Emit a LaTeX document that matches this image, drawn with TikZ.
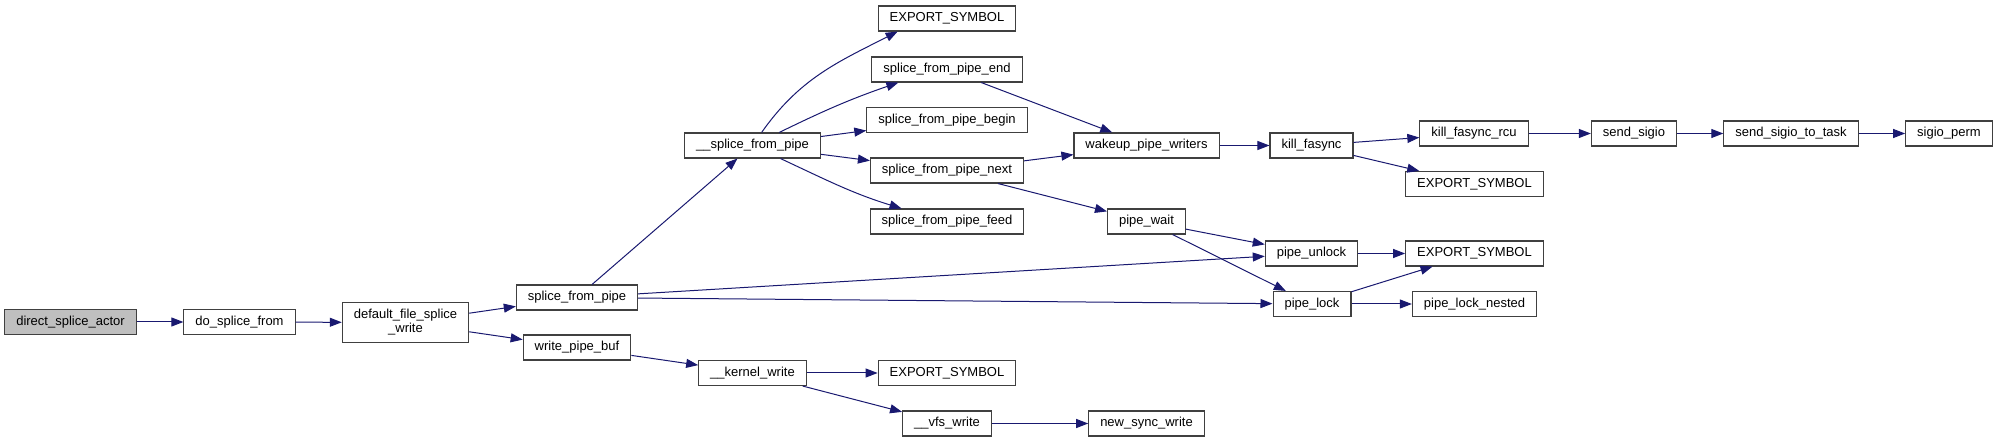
\documentclass[tikz,border=0pt]{standalone}
\usepackage{fontspec}
\setmainfont{Liberation Sans}
\usetikzlibrary{arrows.meta}
\definecolor{edgeblue}{HTML}{191970}
\definecolor{rootgray}{HTML}{BFBFBF}
\begin{document}
\begin{tikzpicture}[x=1pt,y=1pt,
  fn/.style={draw=black!75,line width=1.1pt,fill=white,minimum height=25pt,
    inner xsep=11.5pt,inner ysep=0pt,font=\fontsize{13}{14}\selectfont},
  root/.style={fn,fill=rootgray},
  call/.style={draw=edgeblue,line width=1pt,-{Triangle[length=12pt,width=9pt]}}]
\useasboundingbox (0,0) rectangle (1997,-443);
\node[root] (dsa) at (70.5,-322) {direct\_splice\_actor};
\node[fn] (dsf) at (239.5,-322) {do\_splice\_from};
\node[fn,minimum height=40pt,align=center] (dfsw) at (405.5,-322.5) {default\_file\_splice\\\_write};
\node[fn] (sfp) at (577,-297.5) {splice\_from\_pipe};
\node[fn] (wpb) at (577,-347.5) {write\_pipe\_buf};
\node[fn] (usfp) at (752.5,-145.5) {\_\_splice\_from\_pipe};
\node[fn] (exp1) at (947,-18.5) {EXPORT\_SYMBOL};
\node[fn] (sfpend) at (947,-69.5) {splice\_from\_pipe\_end};
\node[fn] (sfpbegin) at (947,-120) {splice\_from\_pipe\_begin};
\node[fn] (sfpnext) at (947,-170.5) {splice\_from\_pipe\_next};
\node[fn] (sfpfeed) at (947,-221.5) {splice\_from\_pipe\_feed};
\node[fn] (kw) at (752.5,-373) {\_\_kernel\_write};
\node[fn] (exp4) at (947,-373) {EXPORT\_SYMBOL};
\node[fn] (vfs) at (947,-423.5) {\_\_vfs\_write};
\node[fn] (nsw) at (1146.5,-423.5) {new\_sync\_write};
\node[fn] (wpw) at (1146.5,-145.5) {wakeup\_pipe\_writers};
\node[fn] (pwait) at (1146.5,-221.5) {pipe\_wait};
\node[fn] (kf) at (1311.5,-145.5) {kill\_fasync};
\node[fn] (punlock) at (1311.5,-253.5) {pipe\_unlock};
\node[fn] (plock) at (1312,-304) {pipe\_lock};
\node[fn] (kfr) at (1474,-133.5) {kill\_fasync\_rcu};
\node[fn] (exp2) at (1474.5,-184) {EXPORT\_SYMBOL};
\node[fn] (exp3) at (1474.5,-253.5) {EXPORT\_SYMBOL};
\node[fn] (plnested) at (1474.5,-304) {pipe\_lock\_nested};
\node[fn] (ssig) at (1634,-133.5) {send\_sigio};
\node[fn] (ssigt) at (1791,-133.5) {send\_sigio\_to\_task};
\node[fn] (sperm) at (1949,-133.5) {sigio\_perm};
\draw[call] (dsa) -- (dsf);
\draw[call] (dsf) -- (dfsw);
\draw[call] (dfsw) -- (sfp);
\draw[call] (dfsw) -- (wpb);
\draw[call] (sfp) -- (usfp);
\draw[call] (sfp) -- (punlock);
\draw[call] (sfp) -- (plock);
\draw[call] (wpb) -- (kw);
\draw[call] (usfp) to[out=55,in=207] ([xshift=20pt]exp1.south west);
\draw[call] (usfp) to[out=26,in=199] ([xshift=27pt]sfpend.south west);
\draw[call] (usfp) -- (sfpbegin);
\draw[call] (usfp) -- (sfpnext);
\draw[call] (usfp) to[out=-25,in=163] ([xshift=32pt]sfpfeed.north west);
\draw[call] (sfpend) -- (wpw);
\draw[call] (sfpnext) -- (wpw);
\draw[call] (sfpnext) -- (pwait);
\draw[call] (wpw) -- (kf);
\draw[call] (kf) -- (kfr);
\draw[call] (kf) -- (exp2);
\draw[call] (kfr) -- (ssig);
\draw[call] (ssig) -- (ssigt);
\draw[call] (ssigt) -- (sperm);
\draw[call] (pwait) -- (punlock);
\draw[call] (pwait) -- (plock);
\draw[call] (punlock) -- (exp3);
\draw[call] (plock) -- (exp3);
\draw[call] (plock) -- (plnested);
\draw[call] (kw) -- (exp4);
\draw[call] (kw) -- (vfs);
\draw[call] (vfs) -- (nsw);
\end{tikzpicture}
\end{document}
